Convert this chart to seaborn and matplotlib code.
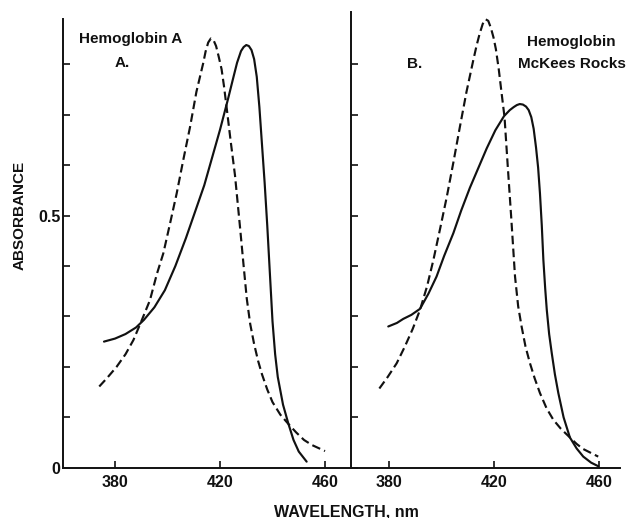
import numpy as np
import pandas as pd
import matplotlib
matplotlib.use("Agg")
import matplotlib.pyplot as plt
import seaborn as sns

# ---------------- data ----------------
# Panel A: Hemoglobin A
a_solid_wl = [375.8, 380, 384, 388, 391, 395, 399, 403, 407, 411, 414, 417, 420, 423,
              425, 426.5, 428, 429, 430, 431, 432, 433, 434, 435, 436, 437, 438, 439,
              440, 441, 442, 444, 446, 448, 450, 453]
a_solid_abs = [0.250, 0.256, 0.265, 0.278, 0.293, 0.318, 0.352, 0.400, 0.455, 0.515, 0.560,
               0.615, 0.670, 0.730, 0.772, 0.803, 0.826, 0.834, 0.838, 0.836, 0.828, 0.810,
               0.775, 0.715, 0.640, 0.565, 0.480, 0.385, 0.290, 0.225, 0.180, 0.125, 0.088,
               0.055, 0.032, 0.012]
a_dash_wl = [374.0, 377, 380.6, 384, 387, 390, 393.3, 396, 398.4, 401, 403.5, 406, 408.6,
             411, 412.5, 413.6, 414.5, 415.5, 416.5, 417.5, 418.5, 419.5, 420.6, 421.5,
             422.5, 424, 425.7, 427.6, 429, 430.2, 431.5, 433, 434.5, 436, 438, 440, 443,
             446, 449, 452, 455, 460]
a_dash_abs = [0.161, 0.178, 0.200, 0.225, 0.253, 0.290, 0.332, 0.385, 0.425, 0.485, 0.544,
              0.610, 0.676, 0.745, 0.778, 0.802, 0.825, 0.843, 0.851, 0.848, 0.836, 0.815,
              0.790, 0.757, 0.715, 0.650, 0.580, 0.478, 0.400, 0.335, 0.285, 0.245, 0.212,
              0.185, 0.155, 0.130, 0.105, 0.087, 0.070, 0.055, 0.045, 0.033]

# Panel B: Hemoglobin McKees Rocks
b_solid_wl = [379.7, 383, 385.4, 388.5, 391.8, 395, 398.1, 401, 404.5, 407.5, 410.8, 414,
              417.2, 420.5, 423.8, 426, 427.5, 428.7, 429.8, 431, 432.2, 433.2, 434.2,
              435.1, 436, 436.8, 437.5, 438.2, 438.8, 439.5, 440.1, 441, 442, 443.2, 444.5,
              446.5, 448.9, 451.5, 454, 457, 459.7]
b_solid_abs = [0.280, 0.287, 0.295, 0.303, 0.315, 0.345, 0.379, 0.420, 0.465, 0.510, 0.555,
               0.594, 0.633, 0.669, 0.697, 0.709, 0.715, 0.719, 0.721, 0.720, 0.716, 0.709,
               0.695, 0.672, 0.635, 0.595, 0.544, 0.480, 0.412, 0.355, 0.313, 0.265, 0.227,
               0.185, 0.148, 0.100, 0.060, 0.038, 0.022, 0.010, 0.003]
b_dash_wl = [376.3, 379.5, 382.9, 386, 389, 391.8, 394.5, 396.9, 399.5, 402.0, 404.5, 407.0,
             409.5, 412.1, 413.4, 414.5, 415.7, 416.8, 417.8, 418.8, 419.8, 420.7, 421.8,
             422.9, 424.0, 425.2, 426.5, 428.0, 429.2, 430.5, 432, 433.7, 435.5, 437.5,
             440, 442.6, 445.5, 448.9, 451.5, 454.0, 459.7]
b_dash_abs = [0.157, 0.180, 0.207, 0.240, 0.275, 0.313, 0.360, 0.412, 0.475, 0.537, 0.605,
              0.676, 0.745, 0.808, 0.838, 0.860, 0.880, 0.889, 0.886, 0.872, 0.853, 0.830,
              0.790, 0.742, 0.695, 0.600, 0.500, 0.379, 0.320, 0.280, 0.240, 0.207, 0.177,
              0.148, 0.118, 0.095, 0.077, 0.060, 0.047, 0.037, 0.022]

x_ticks = [380, 420, 460]
y_ticks = [0, 0.1, 0.2, 0.3, 0.4, 0.5, 0.6, 0.7, 0.8]
y_ticklabels = ["0", "", "", "", "", "0.5", "", "", ""]


def make_df(swl, sab, dwl, dab):
    return pd.concat([
        pd.DataFrame({"wl": swl, "abs": sab, "form": "solid"}),
        pd.DataFrame({"wl": dwl, "abs": dab, "form": "dashed"}),
    ], ignore_index=True)


df_a = make_df(a_solid_wl, a_solid_abs, a_dash_wl, a_dash_abs)
df_b = make_df(b_solid_wl, b_solid_abs, b_dash_wl, b_dash_abs)

# ---------------- style ----------------
sns.set_style("ticks")
plt.rcParams["font.family"] = ["Liberation Sans", "DejaVu Sans"]
plt.rcParams["font.weight"] = "bold"
plt.rcParams["lines.solid_joinstyle"] = "round"
plt.rcParams["lines.dash_joinstyle"] = "round"
plt.rcParams["lines.solid_capstyle"] = "round"

W, H = 627, 518
fig = plt.figure(figsize=(W / 100, H / 100), dpi=100)
fig.patch.set_facecolor("white")

ink = "#111111"
bottom = (H - 467.7) / H
height = (467.7 - 12) / H
ax_a = fig.add_axes([63.3 / W, bottom, (351 - 63.3) / W, height])
ax_b = fig.add_axes([351 / W, bottom, (620 - 351) / W, height])

dashes = {"solid": "", "dashed": (4.0, 2.0)}
for ax, df in ((ax_a, df_a), (ax_b, df_b)):
    sns.lineplot(data=df, x="wl", y="abs", style="form", dashes=dashes,
                 color=ink, linewidth=1.55, estimator=None, sort=False,
                 legend=False, ax=ax)
    ax.set_facecolor("white")
    ax.set_ylim(0, 0.9035)
    ax.set_xticks(x_ticks)
    ax.set_xticklabels([str(t) for t in x_ticks], fontsize=11.5, fontweight="bold", color=ink)
    ax.set_yticks(y_ticks)
    ax.tick_params(axis="both", direction="in", length=5, width=1.2, colors=ink)
    ax.tick_params(axis="x", pad=5)
    ax.tick_params(axis="y", pad=2)
    for s in ("top", "right"):
        ax.spines[s].set_visible(False)
    for s in ("left", "bottom"):
        ax.spines[s].set_linewidth(1.4)
        ax.spines[s].set_color(ink)
    ax.set_xlabel("")
    ax.set_ylabel("")

ax_a.set_xlim(360.3, 469.9)
ax_b.set_xlim(365.5, 468.0)
ax_a.spines["left"].set_bounds(0, 0.8896)
ax_a.set_yticklabels(y_ticklabels, fontsize=11.5, fontweight="bold", color=ink)
ax_b.set_yticklabels([])


def ftext(x, y, s, **kw):
    fig.text(x / W, 1 - y / H, s, color=ink, fontweight="bold", **kw)


ftext(131, 43.3, "Hemoglobin A", fontsize=11, ha="center", va="baseline")
ftext(122.5, 66.7, "A.", fontsize=11, ha="center", va="baseline")
ftext(414.5, 68.0, "B.", fontsize=11, ha="center", va="baseline")
ftext(571, 46.0, "Hemoglobin", fontsize=11, ha="center", va="baseline")
ftext(571.5, 68.3, "McKees Rocks", fontsize=11, ha="center", va="baseline")
ftext(346.7, 516.5, "WAVELENGTH, nm", fontsize=11.5, ha="center", va="baseline")
ftext(19.3, 215, "ABSORBANCE", fontsize=11, ha="center", va="center", rotation=90)

fig.savefig("out.png", dpi=100, facecolor="white")
